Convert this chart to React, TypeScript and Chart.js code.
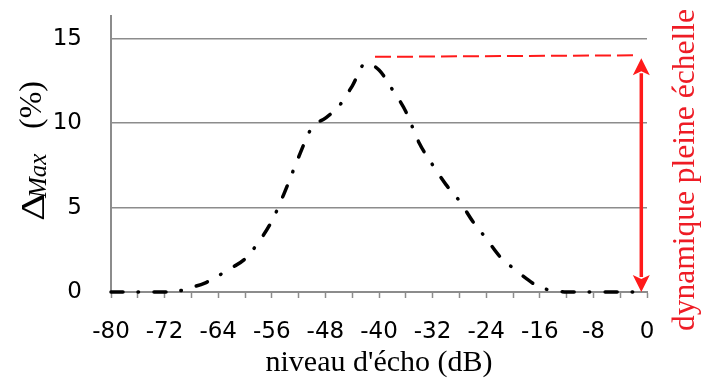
import React, { useEffect, useRef } from "react";
import { Chart, registerables } from "chart.js";

Chart.register(...registerables);

// --- data ---
const ECHO_LEVELS = [
  -80, -78, -76, -74, -72, -70, -68, -66, -64, -62, -60, -58, -56, -54, -52, -50, -48, -46, -44, -42, -40,
  -38, -36, -34, -32, -30, -28, -26, -24, -22, -20, -18, -16, -14, -12, -10, -8, -6, -4, -2, 0,
];
const DELTA_MAX = [
  0, 0, 0, 0, 0, 0.05, 0.27, 0.53, 0.96, 1.43, 1.96, 2.94, 4.2, 5.99, 7.99, 9.75, 10.3, 11.0, 12.2, 13.55, 13.15,
  11.99, 10.69, 8.83, 7.53, 6.36, 5.4, 4.18, 3.17, 2.12, 1.42, 0.79, 0.28, 0.09, 0, 0, 0, 0, 0, 0, 0,
];
const FULL_SCALE_X = [-40.6, -2];
const FULL_SCALE_Y = [13.93, 14.02];
const ARROW_X = -0.85;
const ARROW_Y = [0, 13.85];

const X_TICKS = [-80, -76, -72, -68, -64, -60, -56, -52, -48, -44, -40, -36, -32, -28, -24, -20, -16, -12, -8, -4, 0];
const Y_TICKS = [0, 5, 10, 15];
const Y_MAX = 16.35;

const X_TITLE = "niveau d'écho (dB)";
const Y_TITLE_MAIN = "Δ";
const Y_TITLE_SUB = "Max";
const Y_TITLE_UNIT = "(%)";
const FULL_SCALE_LABEL = "dynamique pleine échelle";

const GRID = "#8c8c8c";
const RED = "#ff1a1a";
const SERIF = "Liberation Serif, Times New Roman, serif";
const SANS = "DejaVu Sans";

const annotations = {
  id: "annotations",
  afterDatasetsDraw(chart: any) {
    const ctx = chart.ctx;
    const xs = chart.scales.x;
    const ys = chart.scales.y;
    const px = xs.getPixelForValue(ARROW_X);
    const yb = ys.getPixelForValue(ARROW_Y[0]);
    const yt = ys.getPixelForValue(ARROW_Y[1]);
    const hl = 17;
    const hw = 8.5;
    ctx.save();
    ctx.strokeStyle = RED;
    ctx.fillStyle = RED;
    ctx.lineWidth = 3.5;
    ctx.beginPath();
    ctx.moveTo(px, yt + hl - 2);
    ctx.lineTo(px, yb - hl + 2);
    ctx.stroke();
    ctx.beginPath();
    ctx.moveTo(px, yt);
    ctx.lineTo(px + hw, yt + hl);
    ctx.lineTo(px, yt + hl - 4);
    ctx.lineTo(px - hw, yt + hl);
    ctx.closePath();
    ctx.fill();
    ctx.beginPath();
    ctx.moveTo(px, yb);
    ctx.lineTo(px + hw, yb - hl);
    ctx.lineTo(px, yb - hl + 4);
    ctx.lineTo(px - hw, yb - hl);
    ctx.closePath();
    ctx.fill();
    ctx.restore();
  },
  afterDraw(chart: any) {
    const ctx = chart.ctx;
    ctx.save();
    ctx.translate(694, 331);
    ctx.rotate(-Math.PI / 2);
    ctx.fillStyle = "#ee1c25";
    ctx.font = "normal 31.5px " + SERIF;
    ctx.textAlign = "left";
    ctx.textBaseline = "alphabetic";
    ctx.fillText(FULL_SCALE_LABEL, 0, 0);
    ctx.restore();

    ctx.save();
    ctx.rotate(-Math.PI / 2);
    ctx.fillStyle = "#000";
    ctx.textAlign = "left";
    ctx.textBaseline = "alphabetic";
    ctx.font = "normal 33px " + SERIF;
    const w = ctx.measureText(Y_TITLE_MAIN).width;
    ctx.save();
    ctx.translate(-221, 44);
    ctx.scale(28 / w, 1);
    ctx.fillText(Y_TITLE_MAIN, 0, 0);
    ctx.restore();
    ctx.font = "italic 25px " + SERIF;
    ctx.fillText(Y_TITLE_SUB, -198, 46);
    ctx.font = "normal 32px " + SERIF;
    ctx.fillText(Y_TITLE_UNIT, -129, 41);
    ctx.restore();
  },
};

export default function App() {
  const ref = useRef<HTMLCanvasElement | null>(null);
  useEffect(() => {
    document.body.style.margin = "0";
    const tickFont = { family: SANS, size: 23 };
    const chart = new Chart(ref.current as HTMLCanvasElement, {
      type: "line",
      data: {
        datasets: [
          {
            data: ECHO_LEVELS.map((x, i) => ({ x, y: DELTA_MAX[i] })),
            borderColor: "#000",
            borderWidth: 3.5,
            borderDash: [12, 15, 0.5, 15.5],
            borderCapStyle: "round",
            pointRadius: 0,
            tension: 0.4,
            cubicInterpolationMode: "monotone",
            clip: false as any,
          },
          {
            data: FULL_SCALE_X.map((x, i) => ({ x, y: FULL_SCALE_Y[i] })),
            borderColor: RED,
            borderWidth: 2,
            borderDash: [16, 6],
            pointRadius: 0,
            clip: false as any,
          },
        ],
      },
      options: {
        responsive: false,
        animation: false,
        layout: { padding: { top: 16, right: 55, left: 0, bottom: 0 } },
        plugins: { legend: { display: false }, tooltip: { enabled: false } },
        scales: {
          x: {
            type: "linear",
            min: -80,
            max: 0,
            afterBuildTicks: (s: any) => {
              s.ticks = X_TICKS.map((v) => ({ value: v }));
            },
            afterFit: (s: any) => {
              s.height = 93;
              s.paddingLeft = 0;
              s.paddingRight = 0;
              s.paddingTop = 0;
              s.paddingBottom = 0;
            },
            grid: {
              drawOnChartArea: false,
              drawTicks: true,
              tickLength: 6,
              tickColor: GRID,
              tickWidth: 1.5,
            },
            border: { display: true, color: GRID, width: 2 },
            ticks: {
              autoSkip: false,
              maxRotation: 0,
              padding: 20,
              color: "#000",
              font: tickFont,
              callback: (v: any) => (Number(v) % 8 === 0 ? String(v) : ""),
            },
            title: {
              display: true,
              text: X_TITLE,
              color: "#000",
              font: { family: SERIF, size: 30 },
              padding: { top: 0, bottom: 4 },
            },
          },
          y: {
            type: "linear",
            min: 0,
            max: Y_MAX,
            afterBuildTicks: (s: any) => {
              s.ticks = Y_TICKS.map((v) => ({ value: v }));
            },
            afterFit: (s: any) => {
              s.width = 111;
              s.paddingLeft = 0;
              s.paddingRight = 0;
              s.paddingTop = 0;
              s.paddingBottom = 0;
            },
            grid: { color: GRID, lineWidth: 1.5, drawTicks: false },
            border: { display: true, color: GRID, width: 2 },
            ticks: { padding: 29, color: "#000", font: tickFont },
          },
        },
      },
      plugins: [annotations],
    });
    let alive = true;
    if ((document as any).fonts && (document as any).fonts.load) {
      Promise.all([
        (document as any).fonts.load("31px " + SERIF),
        (document as any).fonts.load("italic 24px " + SERIF),
        (document as any).fonts.load("23px " + SANS),
      ]).then(() => {
        if (alive) chart.draw();
      });
    }
    return () => {
      alive = false;
      chart.destroy();
    };
  }, []);
  return <canvas ref={ref} width={702} height={385} style={{ display: "block" }} />;
}
